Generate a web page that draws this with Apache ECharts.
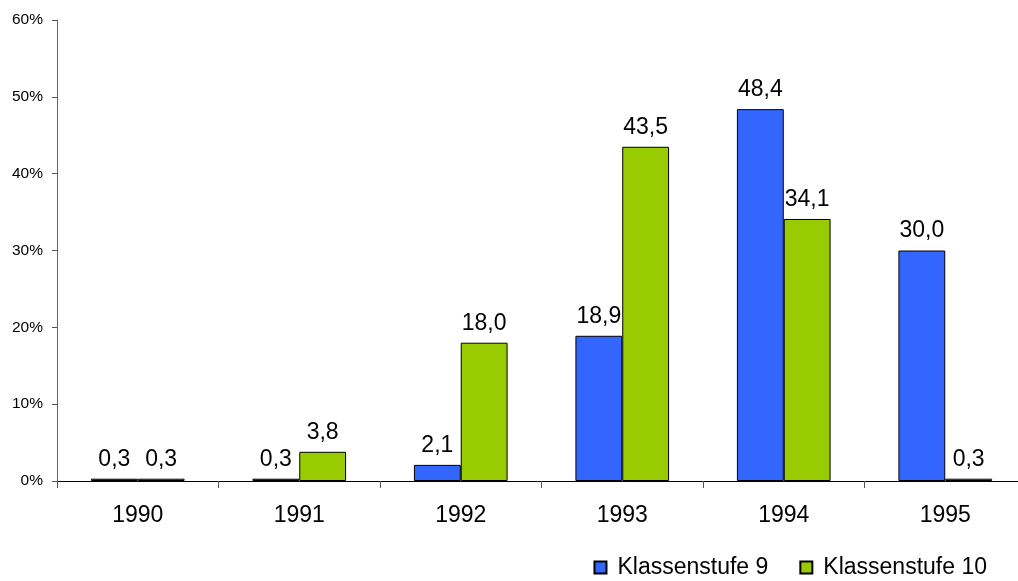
<!DOCTYPE html>
<html><head><meta charset="utf-8">
<script src="https://cdn.jsdelivr.net/npm/echarts@6/dist/echarts.min.js"></script>
<style>html,body{margin:0;padding:0;background:#fff}#c{width:1018px;height:581px}</style>
</head><body><div id="c"></div>
<script>
const categories = ['1990','1991','1992','1993','1994','1995'];
const seriesNames = ['Klassenstufe 9','Klassenstufe 10'];
const klasse9 = [0.3, 0.3, 2.1, 18.9, 48.4, 30.0];
const klasse10 = [0.3, 3.8, 18.0, 43.5, 34.1, 0.3];
const yTicks = [0,10,20,30,40,50,60];

const font = 'Liberation Sans, Arial, sans-serif';
const chart = echarts.init(document.getElementById('c'), null, {renderer:'canvas'});
const lbl = {show:true, position:'top', distance:8, color:'#000', fontFamily:font, fontSize:23,
  formatter: p => p.value.toFixed(1).replace('.', ',')};
chart.setOption({
  animation:false,
  grid:{left:57, right:-8, top:20, bottom:100, containLabel:false, outerBoundsMode:'none'},
  legend:{top:551, right:26, itemWidth:12, itemHeight:12, itemGap:31, icon:'rect',
    textStyle:{fontFamily:font, fontSize:23, color:'#000', padding:[0,0,0,6]},
    data:seriesNames},
  xAxis:{type:'category', data:categories,
    axisLine:{lineStyle:{color:'#000', width:1}},
    axisTick:{show:true, length:7, lineStyle:{color:'#555'}},
    axisLabel:{fontFamily:font, fontSize:23, color:'#000', margin:23}},
  yAxis:{type:'value', min:yTicks[0], max:yTicks[yTicks.length-1], interval:10,
    axisLine:{show:true, lineStyle:{color:'#666'}},
    axisTick:{show:true, length:5, lineStyle:{color:'#555'}},
    splitLine:{show:false},
    axisLabel:{fontFamily:font, fontSize:15.5, color:'#000', margin:14, formatter:v=>v+'%'}},
  series:[
    {name:seriesNames[0], type:'bar', data:klasse9, barGap:'0%', barCategoryGap:'42%',
      itemStyle:{color:'#3366FF', borderColor:'#000', borderWidth:1}, label:lbl},
    {name:seriesNames[1], type:'bar', data:klasse10,
      itemStyle:{color:'#99CC00', borderColor:'#000', borderWidth:1}, label:lbl}
  ]
});
</script></body></html>
